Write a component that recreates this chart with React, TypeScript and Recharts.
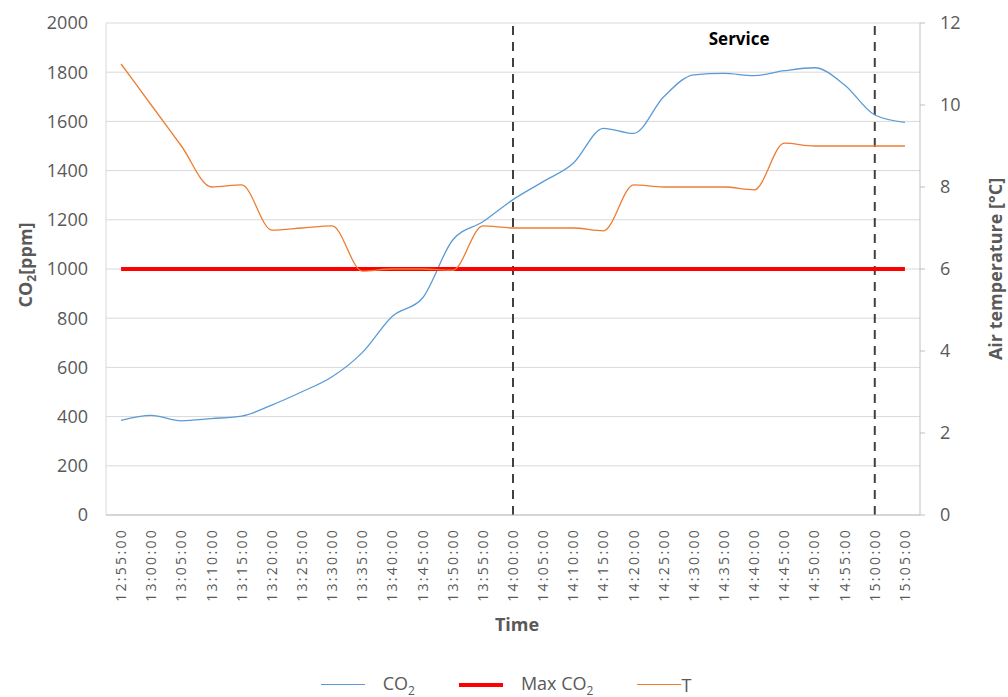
import {
  LineChart,
  Line,
  XAxis,
  YAxis,
  CartesianGrid,
  ReferenceLine,
  ReferenceArea,
  Legend,
  Label,
} from "recharts";

const times = [
  "12:55:00", "13:00:00", "13:05:00", "13:10:00", "13:15:00", "13:20:00",
  "13:25:00", "13:30:00", "13:35:00", "13:40:00", "13:45:00", "13:50:00",
  "13:55:00", "14:00:00", "14:05:00", "14:10:00", "14:15:00", "14:20:00",
  "14:25:00", "14:30:00", "14:35:00", "14:40:00", "14:45:00", "14:50:00",
  "14:55:00", "15:00:00", "15:05:00",
];

const co2 = [
  385, 405, 383, 392, 402, 447, 501, 562, 660, 808, 882, 1118, 1192, 1282,
  1355, 1430, 1572, 1551, 1700, 1789, 1795, 1786, 1806, 1818, 1748, 1626, 1596,
];

const maxCo2 = times.map(() => 1000);

const temperature = [
  11, 10, 9, 8, 8.05, 6.95, 7, 7.05, 5.95, 6, 6, 5.97, 7.05, 7, 7, 7,
  6.93, 8.05, 8, 8, 8, 7.93, 9.07, 9, 9, 9, 9,
];

const leftTicks = [0, 200, 400, 600, 800, 1000, 1200, 1400, 1600, 1800, 2000];
const rightTicks = [0, 2, 4, 6, 8, 10, 12];

const serviceStart = "14:00:00";
const serviceEnd = "15:00:00";

const data = times.map((t, i) => ({
  time: t,
  co2: co2[i],
  max: maxCo2[i],
  temp: temperature[i],
}));

const FONT = "'Open Sans', sans-serif";
const GREY = "#595959";
const BLUE = "#5b9bd5";
const ORANGE = "#ed7d31";
const RED = "#ff0000";

function TimeTick(props: any) {
  const { x, y, payload } = props;
  return (
    <text
      x={0}
      y={0}
      transform={`translate(${x + 5},${y + 5}) rotate(-90)`}
      textAnchor="end"
      fill={GREY}
      fontSize={14}
      letterSpacing={2.3}
      fontFamily={FONT}
    >
      {payload.value}
    </text>
  );
}

function LeftTitle(props: any) {
  const vb = props.viewBox || { x: 0, y: 23, height: 492 };
  const cy = vb.y + vb.height / 2 - 4;
  const cx = 32;
  return (
    <text
      x={cx}
      y={cy}
      transform={`rotate(-90, ${cx}, ${cy})`}
      textAnchor="middle"
      fill={GREY}
      fontSize={18}
      fontWeight="bold"
      fontFamily={FONT}
    >
      <tspan>CO</tspan>
      <tspan fontSize={12} dy={4}>2</tspan>
      <tspan dy={-4}>[ppm]</tspan>
    </text>
  );
}

function RightTitle(props: any) {
  const vb = props.viewBox || { x: 920, y: 23, height: 492 };
  const cy = vb.y + vb.height / 2;
  const cx = 1002;
  return (
    <text
      x={cx}
      y={cy}
      transform={`rotate(-90, ${cx}, ${cy})`}
      textAnchor="middle"
      fill={GREY}
      fontSize={18}
      fontWeight="bold"
      fontFamily={FONT}
    >
      Air temperature [°C]
    </text>
  );
}

function TimeTitle(props: any) {
  const vb = props.viewBox || { x: 106, y: 515, width: 814 };
  return (
    <text
      x={vb.x + vb.width / 2 + 4}
      y={631}
      textAnchor="middle"
      fill={GREY}
      fontSize={18}
      fontWeight="bold"
      fontFamily={FONT}
    >
      Time
    </text>
  );
}

function LegendContent() {
  const item = (color: string, width: number, label: React.ReactNode, gap: number) => (
    <span style={{ display: "inline-flex", alignItems: "center" }}>
      <span
        style={{
          display: "inline-block",
          width: 44,
          height: width,
          background: color,
          marginRight: gap,
        }}
      />
      <span>{label}</span>
    </span>
  );
  return (
    <div
      style={{
        height: 30,
        display: "flex",
        justifyContent: "center",
        alignItems: "center",
        gap: 44,
        fontFamily: FONT,
        fontSize: 18,
        color: GREY,
        paddingLeft: 4,
        paddingTop: 5,
        boxSizing: "border-box",
      }}
    >
      {item(BLUE, 1.5, <>CO<sub style={{ fontSize: 12 }}>2</sub></>, 18)}
      {item(RED, 4, <>Max CO<sub style={{ fontSize: 12 }}>2</sub></>, 18)}
      {item(ORANGE, 1.5, "T", 0)}
    </div>
  );
}

export default function App() {
  return (
    <div style={{ position: "absolute", left: 0, top: 0, width: 1008, height: 697, background: "#fff" }}>
      <LineChart
        width={1008}
        height={697}
        data={data}
        margin={{ top: 23, right: 0, left: 0, bottom: 0 }}
      >
        <CartesianGrid yAxisId="left" vertical={false} stroke="#d9d9d9" />
        <XAxis
          dataKey="time"
          scale="band"
          height={152}
          interval={0}
          tick={<TimeTick />}
          tickLine={false}
          axisLine={{ stroke: "#bfbfbf" }}
        >
          <Label content={<TimeTitle />} />
        </XAxis>
        <YAxis
          yAxisId="left"
          width={106}
          domain={[0, 2000]}
          ticks={leftTicks}
          tickLine={false}
          tickMargin={12}
          axisLine={{ stroke: "#d9d9d9" }}
          tick={{ fill: GREY, fontSize: 18, fontFamily: FONT }}
        >
          <Label content={<LeftTitle />} />
        </YAxis>
        <YAxis
          yAxisId="right"
          orientation="right"
          width={88}
          domain={[0, 12]}
          ticks={rightTicks}
          tickSize={5}
          tickMargin={15}
          tickLine={{ stroke: "#bfbfbf" }}
          axisLine={{ stroke: "#bfbfbf" }}
          tick={{ fill: GREY, fontSize: 18, fontFamily: FONT, textAnchor: "start" }}
        >
          <Label content={<RightTitle />} />
        </YAxis>
        <ReferenceArea
          yAxisId="left"
          x1="14:30:00"
          x2="14:45:00"
          fill="none"
          fillOpacity={0}
          stroke="none"
          label={{
            value: "Service",
            position: "insideTop",
            offset: 10,
            fill: "#000",
            fontSize: 17,
            fontWeight: "bold",
            fontFamily: FONT,
          }}
        />
        <ReferenceLine yAxisId="left" x={serviceStart} stroke="#404040" strokeWidth={2} strokeDasharray="9 7" />
        <ReferenceLine yAxisId="left" x={serviceEnd} stroke="#404040" strokeWidth={2} strokeDasharray="9 7" />
        <Line
          yAxisId="left"
          type="monotone"
          dataKey="co2"
          name="CO2"
          stroke={BLUE}
          strokeWidth={1.3}
          dot={false}
          isAnimationActive={false}
        />
        <Line
          yAxisId="left"
          type="linear"
          dataKey="max"
          name="Max CO2"
          stroke={RED}
          strokeWidth={4}
          dot={false}
          isAnimationActive={false}
        />
        <Line
          yAxisId="right"
          type="monotone"
          dataKey="temp"
          name="T"
          stroke={ORANGE}
          strokeWidth={1.3}
          dot={false}
          isAnimationActive={false}
        />
        <Legend verticalAlign="bottom" content={<LegendContent />} />
      </LineChart>
    </div>
  );
}
